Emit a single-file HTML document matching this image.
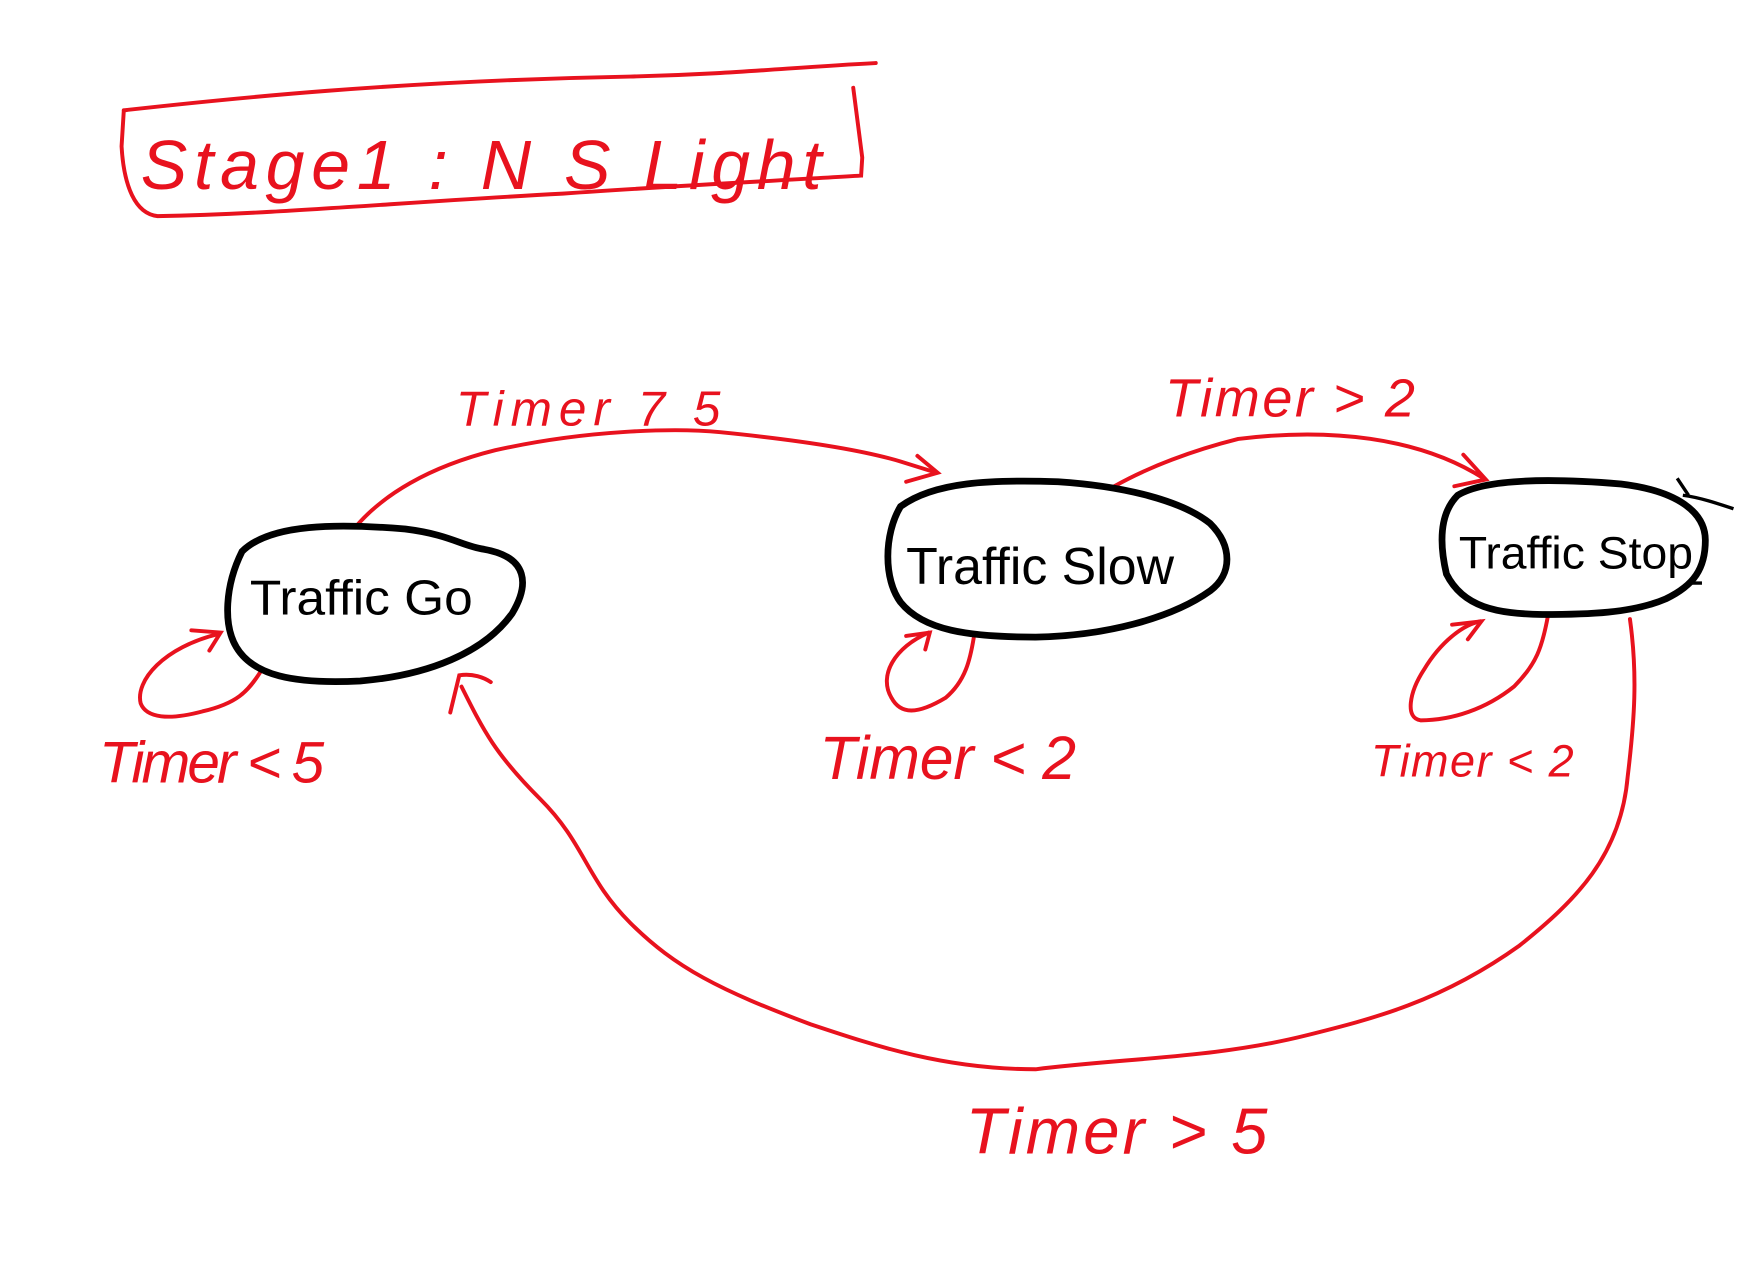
<!DOCTYPE html>
<html><head><meta charset="utf-8"><style>
html,body{margin:0;padding:0;background:#fff;}
svg{display:block}
.h{font-family:"Liberation Sans",sans-serif;fill:#e8121e;font-style:italic;}
.n{font-family:"Liberation Sans",sans-serif;fill:#000;}
</style></head><body>
<svg width="1756" height="1264" viewBox="0 0 1560 1123" preserveAspectRatio="none" xmlns="http://www.w3.org/2000/svg">
<rect width="1560" height="1123" fill="#fff"/>
<g fill="none" stroke="#e8121e" stroke-width="3.5" stroke-linecap="round">
<path d="M110 98 C200 88 350 72 560 68 C650 66 700 60 778 56"/>
<path d="M110 98 L108 130 C110 165 120 190 140 192 C250 190 350 180 500 172 C600 165 700 160 765 156 L766 140 L758 78"/>
<path d="M316 468 C340 440 380 415 440 400 C520 382 600 380 640 384 C700 390 760 398 800 410 L832 420"/>
<path d="M815 405 L833 420 L805 428"/>
<path d="M990 432 C1020 415 1060 400 1100 390 C1180 380 1260 388 1318 425"/>
<path d="M1300 404 L1320 426 L1292 432"/>
<path d="M1448 550 C1455 600 1452 640 1446 690 C1440 760 1400 800 1350 840 C1280 890 1220 905 1160 920 C1080 940 1000 940 920 950 C840 950 780 930 720 910 C640 880 600 860 560 820 C520 780 520 750 480 710 C440 670 430 650 410 610"/>
<path d="M400 633 L408 600 C420 598 430 602 436 606"/>
<path d="M232 596 C220 615 210 625 180 632 C150 640 130 638 125 625 C120 605 145 575 195 563"/>
<path d="M170 560 L196 562 L186 578"/>
<path d="M865 567 C862 585 858 605 840 620 C815 635 800 635 792 620 C780 600 795 575 825 562"/>
<path d="M805 565 L826 562 L822 577"/>
<path d="M1375 548 C1370 575 1365 590 1345 610 C1320 630 1290 640 1262 640 C1248 638 1252 615 1265 595 C1280 570 1300 555 1315 552"/>
<path d="M1290 555 L1316 552 L1304 568"/>
</g>
<text class="h" x="125" y="168" font-size="62" textLength="605" lengthAdjust="spacing">Stage1 :  N S  Light</text>
<text class="h" x="405" y="378" font-size="44" textLength="235" lengthAdjust="spacing">Timer 7 5</text>
<text class="h" x="1035" y="370" font-size="48" textLength="222" lengthAdjust="spacing">Timer &gt; 2</text>
<text class="h" x="88" y="695" font-size="52" textLength="200" lengthAdjust="spacing">Timer &lt; 5</text>
<text class="h" x="728" y="692" font-size="54" textLength="228" lengthAdjust="spacing">Timer &lt; 2</text>
<text class="h" x="1218" y="690" font-size="40" textLength="180" lengthAdjust="spacing">Timer &lt; 2</text>
<text class="h" x="858" y="1025" font-size="58" textLength="268" lengthAdjust="spacing">Timer &gt; 5</text>
<g fill="none" stroke="#000" stroke-width="6">
<path d="M215 490 C240 465 300 465 360 470 C400 475 410 485 430 488 C470 495 470 520 455 545 C430 580 380 600 320 605 C260 608 225 600 210 575 C198 555 200 520 215 490Z"/>
<path d="M800 450 C830 428 880 426 940 428 C1000 432 1050 445 1075 465 C1095 485 1095 510 1075 525 C1040 550 980 565 920 566 C860 566 820 560 800 535 C785 515 785 475 800 450Z"/>
<path d="M1295 440 C1320 425 1380 425 1440 430 C1490 436 1515 455 1515 480 C1515 505 1505 520 1480 532 C1450 545 1410 546 1370 546 C1330 545 1300 540 1285 510 C1278 480 1280 455 1295 440Z"/>
</g>
<path d="M1490 425 L1500 440 M1495 440 C1510 442 1525 447 1540 452 M1500 518 L1512 518" stroke="#000" stroke-width="3" fill="none"/>
<text class="n" x="222" y="546" font-size="44" textLength="198" lengthAdjust="spacingAndGlyphs">Traffic Go</text>
<text class="n" x="805" y="519" font-size="46" textLength="238" lengthAdjust="spacingAndGlyphs">Traffic Slow</text>
<text class="n" x="1296" y="505" font-size="40" textLength="208" lengthAdjust="spacingAndGlyphs">Traffic Stop</text>
</svg>
</body></html>
